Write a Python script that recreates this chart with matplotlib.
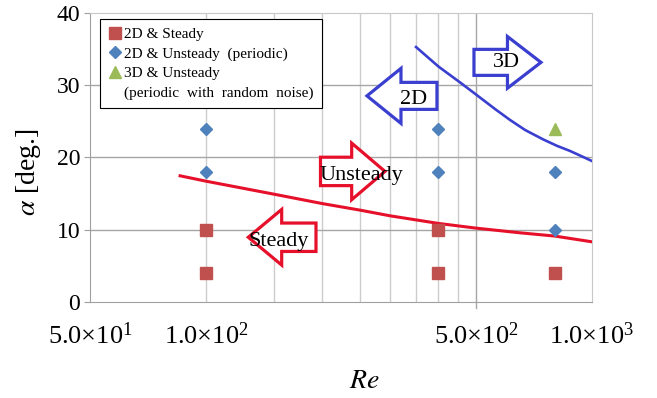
import matplotlib
matplotlib.use("Agg")
import matplotlib.pyplot as plt
from matplotlib.patches import Polygon
from matplotlib.lines import Line2D

plt.rcParams['font.family'] = ['Liberation Serif', 'DejaVu Serif']
plt.rcParams['mathtext.fontset'] = 'stix'

# data
re_steady = [100, 100, 400, 400, 800]
a_steady = [10, 4, 10, 4, 4]
re_periodic = [100, 100, 400, 400, 800, 800]
a_periodic = [24, 18, 24, 18, 18, 10]
re_3d = [800]
a_3d = [24]

# steady / unsteady boundary (red)
re_red = [85.6, 100, 150, 200, 250, 300, 400, 500, 650, 800, 1000]
a_red = [17.45, 16.7, 14.9, 13.6, 12.7, 11.9, 10.85, 10.2, 9.55, 9.1, 8.3]
# 2D / 3D boundary (blue)
re_blue = [350, 400, 455, 504, 561, 613, 671, 747, 812, 877, 1000]
a_blue = [35.3, 32.6, 30.4, 28.6, 26.7, 25.2, 23.8, 22.5, 21.6, 20.9, 19.5]

xtick_pos = [50, 100, 500, 1000]
xtick_lab = [r'$\mathregular{5.0{\times}10^{1}}$', r'$\mathregular{1.0{\times}10^{2}}$',
             r'$\mathregular{5.0{\times}10^{2}}$', r'$\mathregular{1.0{\times}10^{3}}$']
minor_grid = [100, 150, 200, 250, 300, 350, 400, 450]
yticks = [0, 10, 20, 30, 40]

fig = plt.figure(figsize=(6.57, 3.98), dpi=100)
ax = fig.add_axes([0.137, 0.242, 0.764, 0.725])
ax.set_xscale('log')
ax.set_xlim(50, 1000)
ax.set_ylim(0, 40)

# grid
for g in minor_grid:
    ax.axvline(g, color='#cccccc', lw=1.0, zorder=0)
ax.axvline(500, color='#a6a6a6', lw=1.0, zorder=0)
ax.plot([500, 500], [0, -0.9], color='#a6a6a6', lw=1.0, clip_on=False)
for y in yticks[1:-1]:
    ax.axhline(y, color='#a6a6a6', lw=1.0, zorder=0)

for s in ['top', 'right']:
    ax.spines[s].set_color('#c8c8c8')
for s in ['left', 'bottom']:
    ax.spines[s].set_color('#a0a0a0')

ax.set_xticks(xtick_pos)
ax.set_xticklabels(xtick_lab, fontsize=19)
ax.xaxis.set_minor_locator(matplotlib.ticker.NullLocator())
ax.tick_params(axis='x', length=0, pad=15)
ax.set_yticks(yticks)
ax.tick_params(axis='y', length=4, color='#a0a0a0', labelsize=17, pad=3)

ax.set_xlabel(r'$\mathit{Re}$', fontsize=20)
ax.xaxis.label.set_va('center')
ax.xaxis.set_label_coords(0.546, -0.278)
ax.set_ylabel(r'$\alpha$ [deg.]', fontsize=20)
ax.yaxis.label.set_va('center')
ax.yaxis.set_label_coords(-0.123, 0.45)

# boundaries
ax.plot(re_red, a_red, color='#e6102b', lw=2.2, zorder=3)
ax.plot(re_blue, a_blue, color='#3a3fd0', lw=1.9, zorder=3)

# points
ax.plot(re_steady, a_steady, 's', color='#c0504d', ms=8, zorder=4)
ax.plot(re_periodic, a_periodic, 'D', color='#4f81bd', ms=6.5, zorder=4)
ax.plot(re_3d, a_3d, '^', color='#9bbb59', ms=9, zorder=4)


# block arrows (positions in pixels of a 657x398 canvas)
def px(x, y):
    return ((x - 90) / 502.0, (301.7 - y) / 288.4)


def block_arrow(tail, base, tip, yc, bh, hh, color, label, tx, ty):
    pts = [(tail, yc - bh), (base, yc - bh), (base, yc - hh), (tip, yc),
           (base, yc + hh), (base, yc + bh), (tail, yc + bh)]
    poly = Polygon([px(*p) for p in pts], closed=True, transform=ax.transAxes,
                   facecolor='white', edgecolor=color, lw=2.3, zorder=5)
    ax.add_patch(poly)
    ax.text(*px(tx, ty), label, transform=ax.transAxes, fontsize=16,
            ha='center', va='center', zorder=6)


block_arrow(320.5, 351.7, 385, 171.5, 14.2, 28.3, '#e6102b', 'Unsteady', 361, 176)
block_arrow(316, 281.7, 248.3, 237.3, 14.2, 27.8, '#e6102b', 'Steady', 279, 242)
block_arrow(437, 401, 367, 96, 13.5, 27.5, '#3a3fd0', '2D', 414, 100)
block_arrow(474, 507.5, 541, 62.5, 13, 25.8, '#3a3fd0', '3D', 506, 63)

handles = [Line2D([], [], marker='s', color='#c0504d', ls='', ms=8),
           Line2D([], [], marker='D', color='#4f81bd', ls='', ms=6.5),
           Line2D([], [], marker='^', color='#9bbb59', ls='', ms=9),
           Line2D([], [], ls='', marker='')]
labels = ['2D & Steady', '2D & Unsteady  (periodic)', '3D & Unsteady',
          '(periodic  with  random  noise)']
leg = ax.legend(handles, labels, loc='upper left', bbox_to_anchor=(0.02, 0.98),
                fontsize=11, frameon=True, fancybox=False, edgecolor='black',
                framealpha=1, handlelength=0.9, handletextpad=0.1,
                borderpad=0.55, labelspacing=0.38, borderaxespad=0)
leg.get_frame().set_linewidth(0.8)
leg.set_zorder(7)

fig.savefig('out.png', dpi=100)
